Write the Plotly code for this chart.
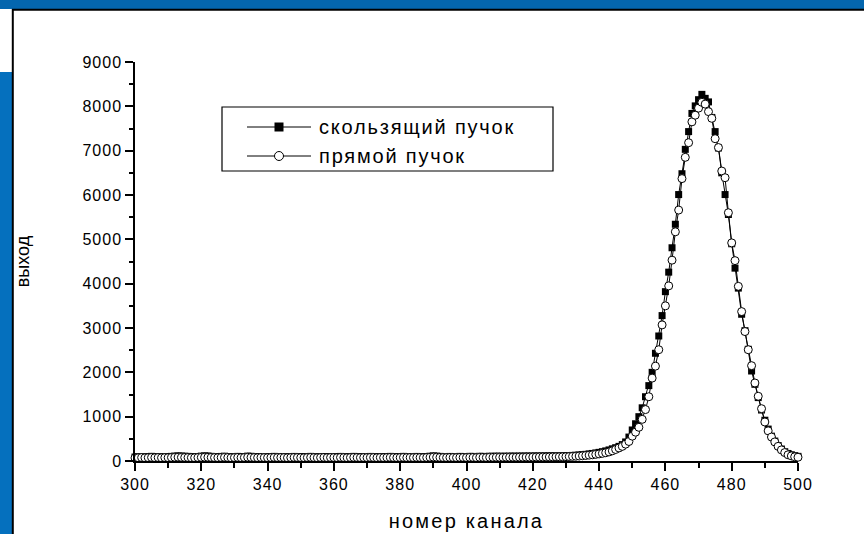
import plotly.graph_objects as go

channels = list(range(300, 501))

sliding_beam = [
    90, 95, 100, 92, 98, 105, 96, 100, 94, 102,
    98, 104, 110, 115, 112, 108, 104, 100, 96, 102,
    110, 116, 112, 105, 100, 98, 103, 108, 100, 95,
    100, 104, 98, 102, 110, 106, 100, 97, 101, 99,
    96, 100, 104, 98, 102, 100, 95, 99, 103, 100,
    98, 96, 100, 104, 99, 95, 100, 102, 98, 101,
    100, 97, 103, 99, 96, 100, 104, 101, 97, 100,
    99, 103, 100, 96, 102, 98, 101, 104, 100, 97,
    100, 104, 98, 101, 99, 103, 100, 97, 102, 108,
    115, 110, 104, 100, 98, 103, 101, 99, 104, 102,
    100, 105, 103, 99, 106, 104, 101, 108, 105, 110,
    106, 108, 107, 109, 110, 108, 111, 110, 112, 111,
    112, 113, 112, 114, 113, 115, 114, 116, 115, 117,
    118, 122, 126, 130, 136, 142, 150, 160, 170, 182,
    195, 210, 228, 250, 275, 300, 330, 370, 430, 540,
    700, 840, 1000, 1200, 1450, 1700, 2000, 2430, 2820, 3280,
    3820, 4260, 4810, 5340, 6010, 6480, 7030, 7430, 7840, 8010,
    8150, 8270, 8180, 8100, 7750, 7430, 7060, 6500, 6010, 5560,
    4900, 4350, 3900, 3310, 2940, 2520, 2030, 1730, 1430, 1150,
    920, 720, 560, 450, 350, 270, 210, 170, 140, 120,
    105,
]

direct_beam = [
    70, 74, 78, 72, 76, 80, 75, 78, 73, 77,
    76, 80, 84, 86, 82, 80, 78, 75, 74, 78,
    82, 86, 84, 80, 77, 75, 79, 82, 78, 74,
    77, 80, 76, 79, 84, 81, 78, 75, 79, 77,
    75, 78, 81, 77, 79, 78, 74, 77, 80, 78,
    76, 75, 78, 81, 77, 74, 78, 80, 76, 79,
    78, 76, 80, 77, 75, 78, 81, 79, 76, 78,
    77, 80, 78, 75, 79, 76, 79, 81, 78, 76,
    78, 81, 77, 79, 77, 80, 78, 76, 80, 84,
    88, 85, 81, 78, 77, 80, 79, 77, 81, 80,
    78, 82, 80, 77, 83, 81, 79, 84, 82, 84,
    83, 84, 85, 84, 86, 85, 87, 86, 88, 87,
    88, 89, 90, 90, 91, 92, 93, 94, 95, 96,
    98, 100, 104, 108, 112, 118, 125, 132, 140, 150,
    160, 172, 186, 205, 230, 260, 295, 330, 380, 440,
    560, 650, 760, 940, 1160, 1450, 1870, 2140, 2510, 3070,
    3500, 3950, 4530, 5170, 5660, 6370, 6850, 7180, 7650, 7800,
    7960, 8090, 8050, 7880, 7730, 7270, 7070, 6540, 6390, 5600,
    4920, 4520, 3940, 3370, 2920, 2510, 2150, 1760, 1460, 1180,
    880, 680, 540, 430, 330, 250, 190, 140, 115, 95,
    85,
]

series_names = ["скользящий пучок", "прямой пучок"]
x_title = "номер канала"
y_title = "выход"
x_ticks = [300, 320, 340, 360, 380, 400, 420, 440, 460, 480, 500]
y_ticks = [0, 1000, 2000, 3000, 4000, 5000, 6000, 7000, 8000, 9000]

FONT = "Liberation Sans, Arial, sans-serif"
W, H = 864, 534
ML, MR, MT, MB = 135, 66, 62, 73
PW, PH = W - ML - MR, H - MT - MB


def xp(px):
    return (px - ML) / PW


def yp(py):
    return (H - MB - py) / PH


def spaced(t, ls):
    return f'<span style="letter-spacing:{ls}px">{t}</span>'


fig = go.Figure()
fig.add_trace(go.Scatter(
    x=channels, y=sliding_beam, mode="lines+markers", name=series_names[0],
    line=dict(color="black", width=1),
    marker=dict(symbol="square", size=7, color="black"),
    cliponaxis=False, showlegend=False,
))
fig.add_trace(go.Scatter(
    x=channels, y=direct_beam, mode="lines+markers", name=series_names[1],
    line=dict(color="black", width=1),
    marker=dict(symbol="circle", size=8, color="white", line=dict(color="black", width=1)),
    cliponaxis=False, showlegend=False,
))

shapes = []
# decorative slide frame
shapes.append(dict(type="rect", xref="paper", yref="paper", x0=xp(-5), x1=xp(870),
                   y0=yp(9), y1=yp(-5), fillcolor="#0466AE", line=dict(width=0), layer="below"))
shapes.append(dict(type="rect", xref="paper", yref="paper", x0=xp(-5), x1=xp(12),
                   y0=yp(540), y1=yp(72), fillcolor="#0570BE", line=dict(width=0), layer="below"))
shapes.append(dict(type="line", xref="paper", yref="paper", x0=xp(12), x1=xp(870),
                   y0=yp(9.8), y1=yp(9.8), line=dict(color="black", width=2)))
shapes.append(dict(type="line", xref="paper", yref="paper", x0=xp(12.8), x1=xp(12.8),
                   y0=yp(9), y1=yp(540), line=dict(color="black", width=2)))

# legend box
shapes.append(dict(type="rect", xref="paper", yref="paper", x0=xp(222), x1=xp(553),
                   y0=yp(171), y1=yp(107), line=dict(color="black", width=1.2), fillcolor="white"))
rows = [127, 156]
for i, ry in enumerate(rows):
    shapes.append(dict(type="line", xref="paper", yref="paper", x0=xp(247), x1=xp(311),
                       y0=yp(ry), y1=yp(ry), line=dict(color="black", width=1)))
s = 4.5
shapes.append(dict(type="rect", xref="paper", yref="paper", x0=xp(279 - s), x1=xp(279 + s),
                   y0=yp(rows[0] + s), y1=yp(rows[0] - s), fillcolor="black",
                   line=dict(color="black", width=0)))
shapes.append(dict(type="circle", xref="paper", yref="paper", x0=xp(279 - s), x1=xp(279 + s),
                   y0=yp(rows[1] + s), y1=yp(rows[1] - s), fillcolor="white",
                   line=dict(color="black", width=1)))

annotations = []
for i, ry in enumerate(rows):
    annotations.append(dict(xref="paper", yref="paper", x=xp(317), y=yp(ry),
                            xanchor="left", yanchor="middle", showarrow=False,
                            text=spaced(series_names[i], 1.8),
                            font=dict(family=FONT, size=20, color="black")))

fig.update_layout(
    width=W, height=H,
    margin=dict(l=ML, r=MR, t=MT, b=MB, pad=0, autoexpand=False),
    paper_bgcolor="white", plot_bgcolor="white",
    shapes=shapes, annotations=annotations,
    font=dict(family=FONT, color="black"),
    xaxis=dict(
        range=[300, 500], tickvals=x_ticks, ticktext=[spaced(str(v), 1.0) for v in x_ticks],
        ticks="outside", ticklen=8, tickwidth=1.5, tickcolor="black",
        minor=dict(dtick=10, tick0=300, ticks="outside", ticklen=5, tickwidth=1.5, tickcolor="black"),
        showline=True, linecolor="black", linewidth=1.5, showgrid=False, zeroline=False,
        tickfont=dict(family=FONT, size=16, color="black"), automargin=False,
        title=dict(text=spaced(x_title, 2.2), font=dict(family=FONT, size=20, color="black"), standoff=22),
    ),
    yaxis=dict(
        range=[0, 9000], tickvals=y_ticks, ticktext=[spaced(str(v), 1.0) for v in y_ticks],
        ticks="outside", ticklen=8, tickwidth=1.5, tickcolor="black",
        minor=dict(dtick=500, tick0=0, ticks="outside", ticklen=4, tickwidth=1.5, tickcolor="black"),
        showline=True, linecolor="black", linewidth=1.5, showgrid=False, zeroline=False,
        tickfont=dict(family=FONT, size=16, color="black"), automargin=False,
        title=dict(text=y_title, font=dict(family=FONT, size=18, color="black"), standoff=48),
    ),
)

fig.write_html("out.html")
